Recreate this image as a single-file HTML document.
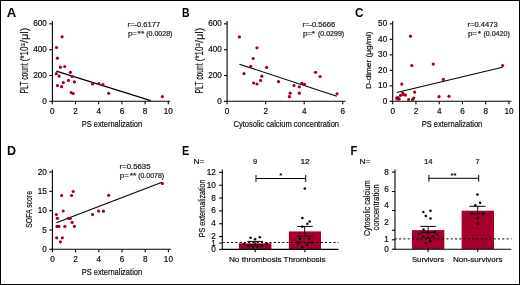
<!DOCTYPE html><html><head><meta charset="utf-8"><style>html,body{margin:0;padding:0;background:#fff;}svg{display:block;will-change:transform;}text{font-family:"Liberation Sans", sans-serif;stroke:#222;stroke-width:0.2px;}text[font-weight=bold]{stroke:none;}</style></head><body>
<svg width="520" height="285" viewBox="0 0 520 285">
<rect x="0" y="0" width="520" height="285" fill="#fff"/>
<rect x="0.5" y="0.5" width="519" height="284" fill="none" stroke="#000" stroke-width="1"/>
<text x="6.84" y="16.50" font-size="12.1" textLength="9.50" lengthAdjust="spacingAndGlyphs" font-weight="bold" fill="#000">A</text>
<line x1="52.40" y1="21.00" x2="52.40" y2="101.85" stroke="#000" stroke-width="1.1"/>
<line x1="49.30" y1="101.30" x2="52.40" y2="101.30" stroke="#000" stroke-width="1.1"/>
<text x="46.80" y="103.85" font-size="8.2" text-anchor="end" textLength="4.55" lengthAdjust="spacingAndGlyphs">0</text>
<line x1="49.30" y1="75.50" x2="52.40" y2="75.50" stroke="#000" stroke-width="1.1"/>
<text x="46.80" y="78.05" font-size="8.2" text-anchor="end" textLength="13.65" lengthAdjust="spacingAndGlyphs">200</text>
<line x1="49.30" y1="49.70" x2="52.40" y2="49.70" stroke="#000" stroke-width="1.1"/>
<text x="46.80" y="52.25" font-size="8.2" text-anchor="end" textLength="13.65" lengthAdjust="spacingAndGlyphs">400</text>
<line x1="49.30" y1="23.85" x2="52.40" y2="23.85" stroke="#000" stroke-width="1.1"/>
<text x="46.80" y="26.40" font-size="8.2" text-anchor="end" textLength="13.65" lengthAdjust="spacingAndGlyphs">600</text>
<line x1="51.85" y1="101.30" x2="170.20" y2="101.30" stroke="#000" stroke-width="1.1"/>
<line x1="52.30" y1="101.30" x2="52.30" y2="104.20" stroke="#000" stroke-width="1.1"/>
<text x="52.30" y="113.70" font-size="8.2" text-anchor="middle" textLength="4.55" lengthAdjust="spacingAndGlyphs">0</text>
<line x1="75.50" y1="101.30" x2="75.50" y2="104.20" stroke="#000" stroke-width="1.1"/>
<text x="75.50" y="113.70" font-size="8.2" text-anchor="middle" textLength="4.55" lengthAdjust="spacingAndGlyphs">2</text>
<line x1="98.70" y1="101.30" x2="98.70" y2="104.20" stroke="#000" stroke-width="1.1"/>
<text x="98.70" y="113.70" font-size="8.2" text-anchor="middle" textLength="4.55" lengthAdjust="spacingAndGlyphs">4</text>
<line x1="121.90" y1="101.30" x2="121.90" y2="104.20" stroke="#000" stroke-width="1.1"/>
<text x="121.90" y="113.70" font-size="8.2" text-anchor="middle" textLength="4.55" lengthAdjust="spacingAndGlyphs">6</text>
<line x1="145.10" y1="101.30" x2="145.10" y2="104.20" stroke="#000" stroke-width="1.1"/>
<text x="145.10" y="113.70" font-size="8.2" text-anchor="middle" textLength="4.55" lengthAdjust="spacingAndGlyphs">8</text>
<line x1="168.30" y1="101.30" x2="168.30" y2="104.20" stroke="#000" stroke-width="1.1"/>
<text x="168.30" y="113.70" font-size="8.2" text-anchor="middle" textLength="9.10" lengthAdjust="spacingAndGlyphs">10</text>
<text x="111.90" y="127.00" font-size="9.9" text-anchor="middle" textLength="60.50" lengthAdjust="spacingAndGlyphs">PS externalization</text>
<text x="28.10" y="93.40" font-size="10.2" textLength="30.00" lengthAdjust="spacingAndGlyphs" transform="rotate(-90 28.10 93.40)">PLT count</text>
<text transform="rotate(-90 28.10 61.2)" x="28.10" y="61.2" font-size="10.2" fill="#111"><tspan textLength="14.8" lengthAdjust="spacingAndGlyphs">(*10</tspan><tspan font-size="6" dy="-3.2" textLength="3.4" lengthAdjust="spacingAndGlyphs">3</tspan><tspan dy="3.2" textLength="15.4" lengthAdjust="spacingAndGlyphs">/μl)</tspan></text>
<text x="127.60" y="27.10" font-size="6.6" textLength="32.60" lengthAdjust="spacingAndGlyphs" fill="#222">r=-0.6177</text>
<text x="127.90" y="35.70" font-size="6.6" textLength="9.20" lengthAdjust="spacingAndGlyphs" fill="#222">p=</text>
<text x="137.60" y="36.00" font-size="7.2" textLength="6.60" lengthAdjust="spacingAndGlyphs" fill="#222">**</text>
<text x="146.20" y="35.70" font-size="6.6" textLength="26.20" lengthAdjust="spacingAndGlyphs" fill="#222">(0.0028)</text>
<line x1="56.30" y1="71.10" x2="150.80" y2="100.60" stroke="#000" stroke-width="1.1"/>
<circle cx="62.10" cy="36.80" r="1.6" fill="#a3001f"/>
<circle cx="56.50" cy="47.50" r="1.6" fill="#a3001f"/>
<circle cx="57.40" cy="58.20" r="1.6" fill="#a3001f"/>
<circle cx="60.40" cy="67.20" r="1.6" fill="#a3001f"/>
<circle cx="64.70" cy="66.50" r="1.6" fill="#a3001f"/>
<circle cx="56.30" cy="73.70" r="1.6" fill="#a3001f"/>
<circle cx="59.10" cy="76.10" r="1.6" fill="#a3001f"/>
<circle cx="70.40" cy="72.30" r="1.6" fill="#a3001f"/>
<circle cx="72.10" cy="76.50" r="1.6" fill="#a3001f"/>
<circle cx="68.40" cy="80.40" r="1.6" fill="#a3001f"/>
<circle cx="63.30" cy="82.60" r="1.6" fill="#a3001f"/>
<circle cx="74.40" cy="81.90" r="1.6" fill="#a3001f"/>
<circle cx="57.40" cy="85.60" r="1.6" fill="#a3001f"/>
<circle cx="61.60" cy="86.70" r="1.6" fill="#a3001f"/>
<circle cx="71.20" cy="92.60" r="1.6" fill="#a3001f"/>
<circle cx="73.20" cy="93.50" r="1.6" fill="#a3001f"/>
<circle cx="92.60" cy="83.90" r="1.6" fill="#a3001f"/>
<circle cx="98.80" cy="83.60" r="1.6" fill="#a3001f"/>
<circle cx="103.00" cy="84.60" r="1.6" fill="#a3001f"/>
<circle cx="108.70" cy="93.30" r="1.6" fill="#a3001f"/>
<circle cx="162.40" cy="96.60" r="1.6" fill="#a3001f"/>
<text x="181.95" y="16.50" font-size="12.1" textLength="7.58" lengthAdjust="spacingAndGlyphs" font-weight="bold" fill="#000">B</text>
<line x1="227.10" y1="21.00" x2="227.10" y2="101.85" stroke="#000" stroke-width="1.1"/>
<line x1="224.00" y1="101.30" x2="227.10" y2="101.30" stroke="#000" stroke-width="1.1"/>
<text x="221.80" y="103.85" font-size="8.2" text-anchor="end" textLength="4.55" lengthAdjust="spacingAndGlyphs">0</text>
<line x1="224.00" y1="75.50" x2="227.10" y2="75.50" stroke="#000" stroke-width="1.1"/>
<text x="221.80" y="78.05" font-size="8.2" text-anchor="end" textLength="13.65" lengthAdjust="spacingAndGlyphs">200</text>
<line x1="224.00" y1="49.70" x2="227.10" y2="49.70" stroke="#000" stroke-width="1.1"/>
<text x="221.80" y="52.25" font-size="8.2" text-anchor="end" textLength="13.65" lengthAdjust="spacingAndGlyphs">400</text>
<line x1="224.00" y1="23.85" x2="227.10" y2="23.85" stroke="#000" stroke-width="1.1"/>
<text x="221.80" y="26.40" font-size="8.2" text-anchor="end" textLength="13.65" lengthAdjust="spacingAndGlyphs">600</text>
<line x1="226.55" y1="101.30" x2="345.40" y2="101.30" stroke="#000" stroke-width="1.1"/>
<line x1="227.10" y1="101.30" x2="227.10" y2="104.20" stroke="#000" stroke-width="1.1"/>
<text x="227.10" y="113.70" font-size="8.2" text-anchor="middle" textLength="4.55" lengthAdjust="spacingAndGlyphs">0</text>
<line x1="265.65" y1="101.30" x2="265.65" y2="104.20" stroke="#000" stroke-width="1.1"/>
<text x="265.65" y="113.70" font-size="8.2" text-anchor="middle" textLength="4.55" lengthAdjust="spacingAndGlyphs">2</text>
<line x1="304.20" y1="101.30" x2="304.20" y2="104.20" stroke="#000" stroke-width="1.1"/>
<text x="304.20" y="113.70" font-size="8.2" text-anchor="middle" textLength="4.55" lengthAdjust="spacingAndGlyphs">4</text>
<line x1="342.75" y1="101.30" x2="342.75" y2="104.20" stroke="#000" stroke-width="1.1"/>
<text x="342.75" y="113.70" font-size="8.2" text-anchor="middle" textLength="4.55" lengthAdjust="spacingAndGlyphs">6</text>
<text x="286.30" y="127.30" font-size="9.9" text-anchor="middle" textLength="105.50" lengthAdjust="spacingAndGlyphs">Cytosolic calcium concentration</text>
<text x="202.90" y="93.40" font-size="10.2" textLength="30.00" lengthAdjust="spacingAndGlyphs" transform="rotate(-90 202.90 93.40)">PLT count</text>
<text transform="rotate(-90 202.90 61.2)" x="202.90" y="61.2" font-size="10.2" fill="#111"><tspan textLength="14.8" lengthAdjust="spacingAndGlyphs">(*10</tspan><tspan font-size="6" dy="-3.2" textLength="3.4" lengthAdjust="spacingAndGlyphs">3</tspan><tspan dy="3.2" textLength="15.4" lengthAdjust="spacingAndGlyphs">/μl)</tspan></text>
<text x="302.60" y="27.10" font-size="6.6" textLength="32.60" lengthAdjust="spacingAndGlyphs" fill="#222">r=-0.5666</text>
<text x="302.90" y="35.70" font-size="6.6" textLength="9.20" lengthAdjust="spacingAndGlyphs" fill="#222">p=</text>
<text x="311.85" y="36.00" font-size="7.2" textLength="3.30" lengthAdjust="spacingAndGlyphs" fill="#222">*</text>
<text x="318.00" y="35.70" font-size="6.6" textLength="26.20" lengthAdjust="spacingAndGlyphs" fill="#222">(0.0299)</text>
<line x1="239.40" y1="64.20" x2="336.80" y2="96.20" stroke="#000" stroke-width="1.1"/>
<circle cx="239.40" cy="36.90" r="1.6" fill="#a3001f"/>
<circle cx="257.00" cy="47.80" r="1.6" fill="#a3001f"/>
<circle cx="253.20" cy="58.50" r="1.6" fill="#a3001f"/>
<circle cx="250.70" cy="66.30" r="1.6" fill="#a3001f"/>
<circle cx="266.70" cy="67.40" r="1.6" fill="#a3001f"/>
<circle cx="244.00" cy="73.70" r="1.6" fill="#a3001f"/>
<circle cx="261.80" cy="76.20" r="1.6" fill="#a3001f"/>
<circle cx="260.60" cy="80.40" r="1.6" fill="#a3001f"/>
<circle cx="253.60" cy="83.00" r="1.6" fill="#a3001f"/>
<circle cx="257.00" cy="84.00" r="1.6" fill="#a3001f"/>
<circle cx="278.50" cy="81.70" r="1.6" fill="#a3001f"/>
<circle cx="294.00" cy="85.60" r="1.6" fill="#a3001f"/>
<circle cx="299.30" cy="86.80" r="1.6" fill="#a3001f"/>
<circle cx="301.80" cy="83.30" r="1.6" fill="#a3001f"/>
<circle cx="304.50" cy="84.30" r="1.6" fill="#a3001f"/>
<circle cx="290.20" cy="93.20" r="1.6" fill="#a3001f"/>
<circle cx="289.40" cy="96.70" r="1.6" fill="#a3001f"/>
<circle cx="299.30" cy="93.20" r="1.6" fill="#a3001f"/>
<circle cx="315.50" cy="72.30" r="1.6" fill="#a3001f"/>
<circle cx="320.10" cy="76.50" r="1.6" fill="#a3001f"/>
<circle cx="337.00" cy="93.80" r="1.6" fill="#a3001f"/>
<text x="354.97" y="16.60" font-size="12.1" textLength="8.50" lengthAdjust="spacingAndGlyphs" font-weight="bold" fill="#000">C</text>
<line x1="392.70" y1="21.00" x2="392.70" y2="101.85" stroke="#000" stroke-width="1.1"/>
<line x1="389.60" y1="101.30" x2="392.70" y2="101.30" stroke="#000" stroke-width="1.1"/>
<text x="387.20" y="103.85" font-size="8.2" text-anchor="end" textLength="4.55" lengthAdjust="spacingAndGlyphs">0</text>
<line x1="389.60" y1="85.81" x2="392.70" y2="85.81" stroke="#000" stroke-width="1.1"/>
<text x="387.20" y="88.36" font-size="8.2" text-anchor="end" textLength="9.10" lengthAdjust="spacingAndGlyphs">10</text>
<line x1="389.60" y1="70.32" x2="392.70" y2="70.32" stroke="#000" stroke-width="1.1"/>
<text x="387.20" y="72.87" font-size="8.2" text-anchor="end" textLength="9.10" lengthAdjust="spacingAndGlyphs">20</text>
<line x1="389.60" y1="54.83" x2="392.70" y2="54.83" stroke="#000" stroke-width="1.1"/>
<text x="387.20" y="57.38" font-size="8.2" text-anchor="end" textLength="9.10" lengthAdjust="spacingAndGlyphs">30</text>
<line x1="389.60" y1="39.34" x2="392.70" y2="39.34" stroke="#000" stroke-width="1.1"/>
<text x="387.20" y="41.89" font-size="8.2" text-anchor="end" textLength="9.10" lengthAdjust="spacingAndGlyphs">40</text>
<line x1="389.60" y1="23.85" x2="392.70" y2="23.85" stroke="#000" stroke-width="1.1"/>
<text x="387.20" y="26.40" font-size="8.2" text-anchor="end" textLength="9.10" lengthAdjust="spacingAndGlyphs">50</text>
<line x1="392.15" y1="101.30" x2="511.40" y2="101.30" stroke="#000" stroke-width="1.1"/>
<line x1="392.70" y1="101.30" x2="392.70" y2="104.20" stroke="#000" stroke-width="1.1"/>
<text x="392.70" y="113.80" font-size="8.2" text-anchor="middle" textLength="4.55" lengthAdjust="spacingAndGlyphs">0</text>
<line x1="415.95" y1="101.30" x2="415.95" y2="104.20" stroke="#000" stroke-width="1.1"/>
<text x="415.95" y="113.80" font-size="8.2" text-anchor="middle" textLength="4.55" lengthAdjust="spacingAndGlyphs">2</text>
<line x1="439.20" y1="101.30" x2="439.20" y2="104.20" stroke="#000" stroke-width="1.1"/>
<text x="439.20" y="113.80" font-size="8.2" text-anchor="middle" textLength="4.55" lengthAdjust="spacingAndGlyphs">4</text>
<line x1="462.45" y1="101.30" x2="462.45" y2="104.20" stroke="#000" stroke-width="1.1"/>
<text x="462.45" y="113.80" font-size="8.2" text-anchor="middle" textLength="4.55" lengthAdjust="spacingAndGlyphs">6</text>
<line x1="485.70" y1="101.30" x2="485.70" y2="104.20" stroke="#000" stroke-width="1.1"/>
<text x="485.70" y="113.80" font-size="8.2" text-anchor="middle" textLength="4.55" lengthAdjust="spacingAndGlyphs">8</text>
<line x1="508.95" y1="101.30" x2="508.95" y2="104.20" stroke="#000" stroke-width="1.1"/>
<text x="508.95" y="113.80" font-size="8.2" text-anchor="middle" textLength="9.10" lengthAdjust="spacingAndGlyphs">10</text>
<text x="452.00" y="127.20" font-size="9.9" text-anchor="middle" textLength="60.50" lengthAdjust="spacingAndGlyphs">PS externalization</text>
<text x="371.20" y="60.30" font-size="8.0" text-anchor="middle" textLength="57.50" lengthAdjust="spacingAndGlyphs" transform="rotate(-90 371.20 60.30)">D-dimer (μg/ml)</text>
<text x="467.60" y="27.00" font-size="6.6" textLength="30.00" lengthAdjust="spacingAndGlyphs" fill="#222">r=0.4473</text>
<text x="467.90" y="35.60" font-size="6.6" textLength="9.20" lengthAdjust="spacingAndGlyphs" fill="#222">p=</text>
<text x="477.75" y="35.90" font-size="7.2" textLength="3.30" lengthAdjust="spacingAndGlyphs" fill="#222">*</text>
<text x="483.40" y="35.60" font-size="6.6" textLength="26.40" lengthAdjust="spacingAndGlyphs" fill="#222">(0.0420)</text>
<line x1="396.80" y1="92.50" x2="502.40" y2="67.30" stroke="#000" stroke-width="1.1"/>
<circle cx="410.50" cy="36.20" r="1.6" fill="#a3001f"/>
<circle cx="411.80" cy="65.60" r="1.6" fill="#a3001f"/>
<circle cx="433.20" cy="64.10" r="1.6" fill="#a3001f"/>
<circle cx="401.80" cy="84.10" r="1.6" fill="#a3001f"/>
<circle cx="414.60" cy="92.10" r="1.6" fill="#a3001f"/>
<circle cx="402.70" cy="93.00" r="1.6" fill="#a3001f"/>
<circle cx="400.50" cy="95.40" r="1.6" fill="#a3001f"/>
<circle cx="403.60" cy="94.70" r="1.6" fill="#a3001f"/>
<circle cx="405.40" cy="95.10" r="1.6" fill="#a3001f"/>
<circle cx="396.60" cy="98.20" r="1.6" fill="#a3001f"/>
<circle cx="397.90" cy="97.50" r="1.6" fill="#a3001f"/>
<circle cx="399.20" cy="99.10" r="1.6" fill="#a3001f"/>
<circle cx="397.50" cy="98.90" r="1.6" fill="#a3001f"/>
<circle cx="408.60" cy="99.50" r="1.6" fill="#a3001f"/>
<circle cx="412.60" cy="99.50" r="1.6" fill="#a3001f"/>
<circle cx="413.70" cy="98.00" r="1.6" fill="#a3001f"/>
<circle cx="443.30" cy="79.40" r="1.6" fill="#a3001f"/>
<circle cx="439.00" cy="96.70" r="1.6" fill="#a3001f"/>
<circle cx="449.00" cy="96.30" r="1.6" fill="#a3001f"/>
<circle cx="502.60" cy="65.50" r="1.6" fill="#a3001f"/>
<text x="7.01" y="154.50" font-size="12.1" textLength="9.07" lengthAdjust="spacingAndGlyphs" font-weight="bold" fill="#000">D</text>
<line x1="52.40" y1="169.40" x2="52.40" y2="249.85" stroke="#000" stroke-width="1.1"/>
<line x1="49.30" y1="249.30" x2="52.40" y2="249.30" stroke="#000" stroke-width="1.1"/>
<text x="46.80" y="251.85" font-size="8.2" text-anchor="end" textLength="4.55" lengthAdjust="spacingAndGlyphs">0</text>
<line x1="49.30" y1="229.97" x2="52.40" y2="229.97" stroke="#000" stroke-width="1.1"/>
<text x="46.80" y="232.52" font-size="8.2" text-anchor="end" textLength="4.55" lengthAdjust="spacingAndGlyphs">5</text>
<line x1="49.30" y1="210.64" x2="52.40" y2="210.64" stroke="#000" stroke-width="1.1"/>
<text x="46.80" y="213.19" font-size="8.2" text-anchor="end" textLength="9.10" lengthAdjust="spacingAndGlyphs">10</text>
<line x1="49.30" y1="191.31" x2="52.40" y2="191.31" stroke="#000" stroke-width="1.1"/>
<text x="46.80" y="193.86" font-size="8.2" text-anchor="end" textLength="9.10" lengthAdjust="spacingAndGlyphs">15</text>
<line x1="49.30" y1="171.98" x2="52.40" y2="171.98" stroke="#000" stroke-width="1.1"/>
<text x="46.80" y="174.53" font-size="8.2" text-anchor="end" textLength="9.10" lengthAdjust="spacingAndGlyphs">20</text>
<line x1="51.85" y1="249.30" x2="170.80" y2="249.30" stroke="#000" stroke-width="1.1"/>
<line x1="52.40" y1="249.30" x2="52.40" y2="252.20" stroke="#000" stroke-width="1.1"/>
<text x="52.40" y="262.20" font-size="8.2" text-anchor="middle" textLength="4.55" lengthAdjust="spacingAndGlyphs">0</text>
<line x1="75.60" y1="249.30" x2="75.60" y2="252.20" stroke="#000" stroke-width="1.1"/>
<text x="75.60" y="262.20" font-size="8.2" text-anchor="middle" textLength="4.55" lengthAdjust="spacingAndGlyphs">2</text>
<line x1="98.80" y1="249.30" x2="98.80" y2="252.20" stroke="#000" stroke-width="1.1"/>
<text x="98.80" y="262.20" font-size="8.2" text-anchor="middle" textLength="4.55" lengthAdjust="spacingAndGlyphs">4</text>
<line x1="122.00" y1="249.30" x2="122.00" y2="252.20" stroke="#000" stroke-width="1.1"/>
<text x="122.00" y="262.20" font-size="8.2" text-anchor="middle" textLength="4.55" lengthAdjust="spacingAndGlyphs">6</text>
<line x1="145.20" y1="249.30" x2="145.20" y2="252.20" stroke="#000" stroke-width="1.1"/>
<text x="145.20" y="262.20" font-size="8.2" text-anchor="middle" textLength="4.55" lengthAdjust="spacingAndGlyphs">8</text>
<line x1="168.40" y1="249.30" x2="168.40" y2="252.20" stroke="#000" stroke-width="1.1"/>
<text x="168.40" y="262.20" font-size="8.2" text-anchor="middle" textLength="9.10" lengthAdjust="spacingAndGlyphs">10</text>
<text x="111.90" y="275.10" font-size="9.9" text-anchor="middle" textLength="60.50" lengthAdjust="spacingAndGlyphs">PS externalization</text>
<text x="32.20" y="209.40" font-size="9.9" text-anchor="middle" textLength="36.80" lengthAdjust="spacingAndGlyphs" transform="rotate(-90 32.20 209.40)">SOFA score</text>
<text x="119.50" y="169.10" font-size="6.6" textLength="31.00" lengthAdjust="spacingAndGlyphs" fill="#222">r=0.5635</text>
<text x="119.80" y="177.70" font-size="6.6" textLength="9.20" lengthAdjust="spacingAndGlyphs" fill="#222">p=</text>
<text x="129.80" y="178.00" font-size="7.2" textLength="6.60" lengthAdjust="spacingAndGlyphs" fill="#222">**</text>
<text x="138.20" y="177.70" font-size="6.6" textLength="25.90" lengthAdjust="spacingAndGlyphs" fill="#222">(0.0078)</text>
<line x1="56.30" y1="222.70" x2="162.00" y2="182.30" stroke="#000" stroke-width="1.1"/>
<circle cx="73.20" cy="191.50" r="1.6" fill="#a3001f"/>
<circle cx="61.60" cy="195.50" r="1.6" fill="#a3001f"/>
<circle cx="71.60" cy="195.50" r="1.6" fill="#a3001f"/>
<circle cx="63.20" cy="211.00" r="1.6" fill="#a3001f"/>
<circle cx="56.30" cy="214.50" r="1.6" fill="#a3001f"/>
<circle cx="57.40" cy="218.30" r="1.6" fill="#a3001f"/>
<circle cx="68.40" cy="218.30" r="1.6" fill="#a3001f"/>
<circle cx="70.40" cy="218.30" r="1.6" fill="#a3001f"/>
<circle cx="72.10" cy="222.40" r="1.6" fill="#a3001f"/>
<circle cx="57.00" cy="226.40" r="1.6" fill="#a3001f"/>
<circle cx="58.80" cy="226.40" r="1.6" fill="#a3001f"/>
<circle cx="64.90" cy="226.40" r="1.6" fill="#a3001f"/>
<circle cx="74.40" cy="226.40" r="1.6" fill="#a3001f"/>
<circle cx="56.70" cy="237.80" r="1.6" fill="#a3001f"/>
<circle cx="62.30" cy="237.80" r="1.6" fill="#a3001f"/>
<circle cx="60.40" cy="241.80" r="1.6" fill="#a3001f"/>
<circle cx="92.60" cy="214.50" r="1.6" fill="#a3001f"/>
<circle cx="98.60" cy="211.10" r="1.6" fill="#a3001f"/>
<circle cx="103.40" cy="211.20" r="1.6" fill="#a3001f"/>
<circle cx="108.70" cy="195.30" r="1.6" fill="#a3001f"/>
<circle cx="162.40" cy="183.50" r="1.6" fill="#a3001f"/>
<text x="181.92" y="154.50" font-size="12.1" textLength="7.25" lengthAdjust="spacingAndGlyphs" font-weight="bold" fill="#000">E</text>
<text x="193.50" y="164.00" font-size="7.4" textLength="11.00" lengthAdjust="spacingAndGlyphs">N=</text>
<text x="255.00" y="164.00" font-size="7.4" text-anchor="middle">9</text>
<text x="305.10" y="164.00" font-size="7.4" text-anchor="middle" textLength="9.40" lengthAdjust="spacingAndGlyphs">12</text>
<rect x="238.9" y="243.3" width="32.5" height="6.10" fill="#a5002c"/>
<rect x="288.9" y="231.4" width="32.1" height="18.00" fill="#a5002c"/>
<line x1="222.55" y1="242.50" x2="338.60" y2="242.50" stroke="#000" stroke-width="1.0" stroke-dasharray="2.1 2.165"/>
<line x1="247.30" y1="241.40" x2="263.00" y2="241.40" stroke="#000" stroke-width="1.0"/>
<line x1="255.20" y1="241.40" x2="255.20" y2="245.00" stroke="#000" stroke-width="1.0"/>
<line x1="247.30" y1="245.00" x2="263.00" y2="245.00" stroke="#000" stroke-width="1.0"/>
<line x1="297.10" y1="226.40" x2="312.70" y2="226.40" stroke="#000" stroke-width="1.0"/>
<line x1="297.10" y1="236.20" x2="312.70" y2="236.20" stroke="#000" stroke-width="1.0"/>
<line x1="304.70" y1="226.40" x2="304.70" y2="236.20" stroke="#000" stroke-width="1.0"/>
<line x1="256.00" y1="178.50" x2="305.70" y2="178.50" stroke="#000" stroke-width="1.0"/>
<line x1="256.00" y1="175.00" x2="256.00" y2="181.80" stroke="#000" stroke-width="1.0"/>
<line x1="305.70" y1="175.00" x2="305.70" y2="181.80" stroke="#000" stroke-width="1.0"/>
<text x="280.90" y="178.00" font-size="8.0" text-anchor="middle" font-weight="bold">*</text>
<circle cx="250.60" cy="237.70" r="1.25" fill="#000"/>
<circle cx="259.80" cy="237.20" r="1.25" fill="#000"/>
<circle cx="255.20" cy="239.20" r="1.25" fill="#000"/>
<circle cx="243.80" cy="243.90" r="1.25" fill="#000"/>
<circle cx="248.20" cy="246.20" r="1.25" fill="#000"/>
<circle cx="253.00" cy="246.70" r="1.25" fill="#000"/>
<circle cx="257.60" cy="246.70" r="1.25" fill="#000"/>
<circle cx="262.20" cy="245.80" r="1.25" fill="#000"/>
<circle cx="266.80" cy="243.60" r="1.25" fill="#000"/>
<circle cx="304.80" cy="188.40" r="1.25" fill="#000"/>
<circle cx="302.40" cy="218.10" r="1.25" fill="#000"/>
<circle cx="309.60" cy="221.40" r="1.25" fill="#000"/>
<circle cx="307.30" cy="223.80" r="1.25" fill="#000"/>
<circle cx="302.30" cy="226.70" r="1.25" fill="#000"/>
<circle cx="299.90" cy="238.70" r="1.25" fill="#000"/>
<circle cx="309.40" cy="238.70" r="1.25" fill="#000"/>
<circle cx="298.00" cy="243.50" r="1.25" fill="#000"/>
<circle cx="312.00" cy="242.50" r="1.25" fill="#000"/>
<circle cx="307.00" cy="244.90" r="1.25" fill="#000"/>
<circle cx="302.30" cy="247.30" r="1.25" fill="#000"/>
<circle cx="297.30" cy="242.60" r="1.25" fill="#000"/>
<line x1="222.30" y1="169.60" x2="222.30" y2="249.95" stroke="#000" stroke-width="1.1"/>
<line x1="219.20" y1="249.40" x2="222.30" y2="249.40" stroke="#000" stroke-width="1.1"/>
<text x="215.80" y="251.95" font-size="8.2" text-anchor="end" textLength="4.55" lengthAdjust="spacingAndGlyphs">0</text>
<line x1="219.20" y1="242.99" x2="222.30" y2="242.99" stroke="#000" stroke-width="1.1"/>
<text x="215.80" y="245.54" font-size="8.2" text-anchor="end" textLength="4.55" lengthAdjust="spacingAndGlyphs">1</text>
<line x1="219.20" y1="236.57" x2="222.30" y2="236.57" stroke="#000" stroke-width="1.1"/>
<text x="215.80" y="239.12" font-size="8.2" text-anchor="end" textLength="4.55" lengthAdjust="spacingAndGlyphs">2</text>
<line x1="219.20" y1="223.74" x2="222.30" y2="223.74" stroke="#000" stroke-width="1.1"/>
<text x="215.80" y="226.29" font-size="8.2" text-anchor="end" textLength="4.55" lengthAdjust="spacingAndGlyphs">4</text>
<line x1="219.20" y1="210.91" x2="222.30" y2="210.91" stroke="#000" stroke-width="1.1"/>
<text x="215.80" y="213.46" font-size="8.2" text-anchor="end" textLength="4.55" lengthAdjust="spacingAndGlyphs">6</text>
<line x1="219.20" y1="198.08" x2="222.30" y2="198.08" stroke="#000" stroke-width="1.1"/>
<text x="215.80" y="200.63" font-size="8.2" text-anchor="end" textLength="4.55" lengthAdjust="spacingAndGlyphs">8</text>
<line x1="219.20" y1="185.25" x2="222.30" y2="185.25" stroke="#000" stroke-width="1.1"/>
<text x="215.80" y="187.80" font-size="8.2" text-anchor="end" textLength="9.10" lengthAdjust="spacingAndGlyphs">10</text>
<line x1="219.20" y1="172.42" x2="222.30" y2="172.42" stroke="#000" stroke-width="1.1"/>
<text x="215.80" y="174.97" font-size="8.2" text-anchor="end" textLength="9.10" lengthAdjust="spacingAndGlyphs">12</text>
<line x1="221.75" y1="249.40" x2="338.40" y2="249.40" stroke="#000" stroke-width="1.1"/>
<line x1="255.20" y1="249.40" x2="255.20" y2="252.30" stroke="#000" stroke-width="1.1"/>
<line x1="304.90" y1="249.40" x2="304.90" y2="252.30" stroke="#000" stroke-width="1.1"/>
<text x="255.30" y="262.20" font-size="7.8" text-anchor="middle" textLength="52.80" lengthAdjust="spacingAndGlyphs">No thrombosis</text>
<text x="304.50" y="262.20" font-size="7.8" text-anchor="middle" textLength="41.80" lengthAdjust="spacingAndGlyphs">Thrombosis</text>
<text x="204.70" y="208.30" font-size="9.9" text-anchor="middle" textLength="57.80" lengthAdjust="spacingAndGlyphs" transform="rotate(-90 204.70 208.30)">PS externalization</text>
<text x="350.52" y="154.50" font-size="12.1" textLength="6.69" lengthAdjust="spacingAndGlyphs" font-weight="bold" fill="#000">F</text>
<text x="359.50" y="164.00" font-size="7.4" textLength="11.00" lengthAdjust="spacingAndGlyphs">N=</text>
<text x="428.30" y="164.00" font-size="7.4" text-anchor="middle" textLength="8.60" lengthAdjust="spacingAndGlyphs">14</text>
<text x="477.60" y="164.00" font-size="7.4" text-anchor="middle">7</text>
<rect x="411.9" y="230.1" width="32.4" height="19.10" fill="#a5002c"/>
<rect x="461.6" y="210.7" width="32.4" height="38.50" fill="#a5002c"/>
<line x1="394.75" y1="238.90" x2="511.60" y2="238.90" stroke="#000" stroke-width="1.0" stroke-dasharray="2.1 2.2"/>
<line x1="420.20" y1="226.40" x2="435.90" y2="226.40" stroke="#000" stroke-width="1.0"/>
<line x1="420.20" y1="232.30" x2="435.90" y2="232.30" stroke="#000" stroke-width="1.0"/>
<line x1="428.10" y1="226.40" x2="428.10" y2="232.30" stroke="#000" stroke-width="1.0"/>
<line x1="469.50" y1="206.30" x2="485.60" y2="206.30" stroke="#000" stroke-width="1.0"/>
<line x1="469.50" y1="213.90" x2="485.60" y2="213.90" stroke="#000" stroke-width="1.0"/>
<line x1="477.70" y1="206.30" x2="477.70" y2="213.90" stroke="#000" stroke-width="1.0"/>
<line x1="428.90" y1="178.30" x2="478.70" y2="178.30" stroke="#000" stroke-width="1.0"/>
<line x1="428.90" y1="175.00" x2="428.90" y2="181.70" stroke="#000" stroke-width="1.0"/>
<line x1="478.70" y1="175.00" x2="478.70" y2="181.70" stroke="#000" stroke-width="1.0"/>
<text x="453.60" y="177.60" font-size="8.0" text-anchor="middle" textLength="6.20" lengthAdjust="spacingAndGlyphs" font-weight="bold">**</text>
<circle cx="423.40" cy="212.10" r="1.25" fill="#000"/>
<circle cx="430.50" cy="210.80" r="1.25" fill="#000"/>
<circle cx="425.80" cy="216.10" r="1.25" fill="#000"/>
<circle cx="430.50" cy="218.40" r="1.25" fill="#000"/>
<circle cx="423.50" cy="229.60" r="1.25" fill="#000"/>
<circle cx="427.90" cy="232.60" r="1.25" fill="#000"/>
<circle cx="434.90" cy="232.00" r="1.25" fill="#000"/>
<circle cx="418.70" cy="234.50" r="1.25" fill="#000"/>
<circle cx="437.30" cy="234.50" r="1.25" fill="#000"/>
<circle cx="423.50" cy="236.20" r="1.25" fill="#000"/>
<circle cx="432.70" cy="236.20" r="1.25" fill="#000"/>
<circle cx="427.90" cy="237.80" r="1.25" fill="#000"/>
<circle cx="430.30" cy="240.90" r="1.25" fill="#000"/>
<circle cx="425.70" cy="243.30" r="1.25" fill="#000"/>
<circle cx="477.40" cy="194.50" r="1.25" fill="#000"/>
<circle cx="480.10" cy="202.70" r="1.25" fill="#000"/>
<circle cx="475.30" cy="205.20" r="1.25" fill="#000"/>
<circle cx="472.20" cy="213.40" r="1.25" fill="#000"/>
<circle cx="482.90" cy="213.40" r="1.25" fill="#000"/>
<circle cx="477.70" cy="218.20" r="1.25" fill="#000"/>
<circle cx="477.70" cy="223.70" r="1.25" fill="#000"/>
<line x1="395.00" y1="169.40" x2="395.00" y2="249.75" stroke="#000" stroke-width="1.1"/>
<line x1="391.90" y1="249.20" x2="395.00" y2="249.20" stroke="#000" stroke-width="1.1"/>
<line x1="391.90" y1="239.80" x2="395.00" y2="239.80" stroke="#000" stroke-width="1.1"/>
<line x1="391.90" y1="230.20" x2="395.00" y2="230.20" stroke="#000" stroke-width="1.1"/>
<line x1="391.90" y1="210.50" x2="395.00" y2="210.50" stroke="#000" stroke-width="1.1"/>
<line x1="391.90" y1="191.50" x2="395.00" y2="191.50" stroke="#000" stroke-width="1.1"/>
<line x1="391.90" y1="172.10" x2="395.00" y2="172.10" stroke="#000" stroke-width="1.1"/>
<text x="388.70" y="251.75" font-size="8.2" text-anchor="end" textLength="4.55" lengthAdjust="spacingAndGlyphs">0</text>
<text x="388.70" y="242.35" font-size="8.2" text-anchor="end" textLength="4.55" lengthAdjust="spacingAndGlyphs">1</text>
<text x="388.70" y="225.05" font-size="8.2" text-anchor="end" textLength="4.55" lengthAdjust="spacingAndGlyphs">2</text>
<text x="388.70" y="208.15" font-size="8.2" text-anchor="end" textLength="4.55" lengthAdjust="spacingAndGlyphs">4</text>
<text x="388.70" y="191.95" font-size="8.2" text-anchor="end" textLength="4.55" lengthAdjust="spacingAndGlyphs">6</text>
<text x="388.70" y="174.75" font-size="8.2" text-anchor="end" textLength="4.55" lengthAdjust="spacingAndGlyphs">8</text>
<line x1="394.45" y1="249.20" x2="511.20" y2="249.20" stroke="#000" stroke-width="1.1"/>
<line x1="428.10" y1="249.20" x2="428.10" y2="252.10" stroke="#000" stroke-width="1.1"/>
<line x1="477.80" y1="249.20" x2="477.80" y2="252.10" stroke="#000" stroke-width="1.1"/>
<text x="428.00" y="262.30" font-size="7.8" text-anchor="middle" textLength="32.00" lengthAdjust="spacingAndGlyphs">Survivors</text>
<text x="477.70" y="262.30" font-size="7.8" text-anchor="middle" textLength="49.50" lengthAdjust="spacingAndGlyphs">Non-survivors</text>
<text x="369.90" y="208.20" font-size="9.7" text-anchor="middle" textLength="55.80" lengthAdjust="spacingAndGlyphs" transform="rotate(-90 369.90 208.20)">Cytosolic calcium</text>
<text x="379.30" y="207.30" font-size="9.7" text-anchor="middle" textLength="46.20" lengthAdjust="spacingAndGlyphs" transform="rotate(-90 379.30 207.30)">concentration</text>
</svg></body></html>
